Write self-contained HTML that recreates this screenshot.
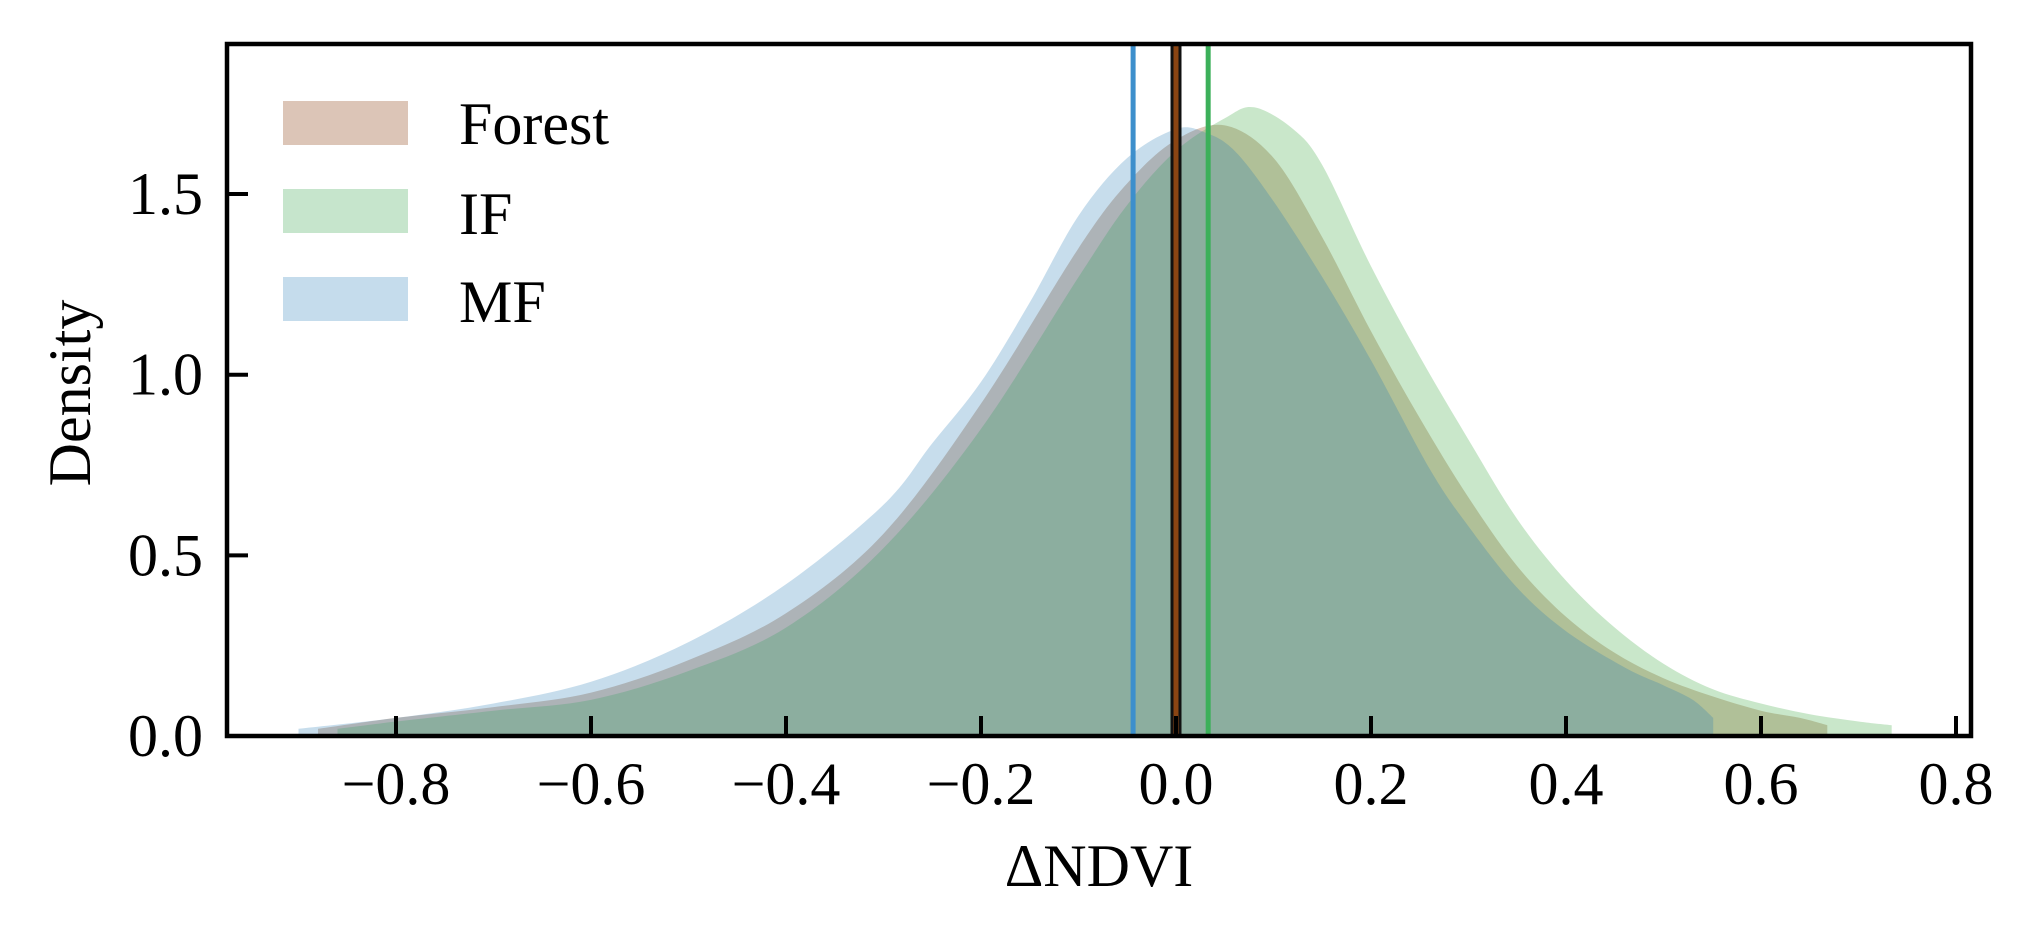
<!DOCTYPE html>
<html><head><meta charset="utf-8"><style>
html,body{margin:0;padding:0;background:#fff;}
svg{display:block;font-family:"Liberation Serif",serif;}
</style></head><body>
<svg id="chart" width="2039" height="943" viewBox="0 0 2039 943" xmlns="http://www.w3.org/2000/svg">
<g id="fills"></g>
<g id="means"></g>
<g id="axes"></g>
<g id="legend"></g>
<text x="90" y="393" font-size="60" text-anchor="middle" transform="rotate(-90 90 393)">Density</text>
<text x="1099" y="886" font-size="60" text-anchor="middle">ΔNDVI</text>
</svg>
<script>
const seriesNames = ["Forest", "IF", "MF"];
const forestX = [-0.88,-0.8,-0.7,-0.6,-0.5,-0.4,-0.3,-0.2,-0.1,-0.05,0.0,0.05,0.1,0.15,0.2,0.25,0.3,0.35,0.4,0.45,0.5,0.55,0.6,0.64,0.668];
const forestY = [0.02,0.05,0.08,0.12,0.21,0.34,0.56,0.92,1.35,1.53,1.65,1.69,1.6,1.38,1.12,0.88,0.66,0.47,0.33,0.23,0.16,0.11,0.07,0.05,0.03];
const ifX = [-0.86,-0.8,-0.7,-0.6,-0.5,-0.4,-0.3,-0.2,-0.1,-0.05,0.0,0.05,0.08,0.12,0.15,0.2,0.25,0.3,0.35,0.4,0.45,0.5,0.55,0.6,0.65,0.7,0.734];
const ifY = [0.02,0.04,0.07,0.1,0.18,0.3,0.52,0.85,1.27,1.47,1.62,1.71,1.74,1.68,1.58,1.3,1.05,0.82,0.6,0.43,0.3,0.2,0.13,0.09,0.06,0.04,0.03];
const mfX = [-0.9,-0.8,-0.7,-0.6,-0.5,-0.4,-0.3,-0.25,-0.2,-0.15,-0.1,-0.05,0.0,0.03,0.06,0.1,0.15,0.2,0.26,0.3,0.35,0.4,0.46,0.5,0.53,0.551];
const mfY = [0.02,0.05,0.09,0.15,0.26,0.42,0.64,0.81,0.98,1.2,1.44,1.6,1.68,1.67,1.62,1.48,1.27,1.04,0.74,0.58,0.41,0.29,0.19,0.14,0.1,0.05];
const meanValues = [0.0, 0.033, -0.044];
const xTicks = [-0.8,-0.6,-0.4,-0.2,0.0,0.2,0.4,0.6,0.8];
const xTickLabels = ["\u22120.8","\u22120.6","\u22120.4","\u22120.2","0.0","0.2","0.4","0.6","0.8"];
const yTicks = [0.0,0.5,1.0,1.5];
const yTickLabels = ["0.0","0.5","1.0","1.5"];

const L=227,R=1971,T=44,B=736;
const X0=1176, XS=975;
const YS=361.3;
const sx=v=>X0+v*XS;
const sy=v=>B-v*YS;
const NS="http://www.w3.org/2000/svg";
function mk(tag,attrs,parent){const e=document.createElementNS(NS,tag);for(const k in attrs)e.setAttribute(k,attrs[k]);parent.appendChild(e);return e;}
function smooth(pts){
  let d=` L${pts[0][0].toFixed(1)},${pts[0][1].toFixed(1)}`;
  for(let i=0;i<pts.length-1;i++){
    const p0=pts[Math.max(0,i-1)],p1=pts[i],p2=pts[i+1],p3=pts[Math.min(pts.length-1,i+2)];
    const c1=[p1[0]+(p2[0]-p0[0])/6,p1[1]+(p2[1]-p0[1])/6];
    const c2=[p2[0]-(p3[0]-p1[0])/6,p2[1]-(p3[1]-p1[1])/6];
    d+=` C${c1[0].toFixed(1)},${c1[1].toFixed(1)} ${c2[0].toFixed(1)},${c2[1].toFixed(1)} ${p2[0].toFixed(1)},${p2[1].toFixed(1)}`;
  }
  return d;
}
const fills=document.getElementById('fills');
const fillCols=[["#8b4513",0.3],["#4caf50",0.3],["#1f77b4",0.25]];
const xs=[forestX,ifX,mfX], ys=[forestY,ifY,mfY];
for(let s=0;s<3;s++){
  const pts=xs[s].map((v,i)=>[sx(v),sy(ys[s][i])]);
  let d=`M${sx(xs[s][0])},${B}`+smooth(pts)+` L${sx(xs[s][xs[s].length-1])},${B} Z`;
  const p=mk('path',{d:d,fill:fillCols[s][0],'fill-opacity':fillCols[s][1]},fills);
  
  
}
const means=document.getElementById('means');
const lineCols=["#8b4513","#3cb05a","#3d8fcc"];
for(let s=0;s<3;s++){
  const x=sx(meanValues[s]);
  if(s===0){
    const bl=mk('line',{x1:x,x2:x,y1:T,y2:B,stroke:'#111',"stroke-width":11},means);
    
    
  }
  const l=mk('line',{x1:x,x2:x,y1:T,y2:B,stroke:lineCols[s],"stroke-width":5},means);
  
  
}
const axes=document.getElementById('axes');
const fr=mk('rect',{x:L,y:T,width:R-L,height:B-T,fill:'none',stroke:'#000','stroke-width':4.5},axes);


xTicks.forEach((v,i)=>{
  const x=sx(v);
  const t=mk('line',{x1:x,x2:x,y1:B,y2:B-20,stroke:'#000','stroke-width':4},axes);
  
  
  const tx=mk('text',{x:x,y:804,'font-size':60,'text-anchor':'middle'},axes);
  tx.textContent=xTickLabels[i];
  
  
});
yTicks.forEach((v,i)=>{
  const y=sy(v);
  const t=mk('line',{x1:L,x2:L+21,y1:y,y2:y,stroke:'#000','stroke-width':4},axes);
  
  
  const tx=mk('text',{x:203,y:y+20,'font-size':60,'text-anchor':'end'},axes);
  tx.textContent=yTickLabels[i];
  
  
});
const legend=document.getElementById('legend');
const legCols=["#dcc5b7","#c6e5cc","#c5dcec"];
const legY=[101,189,277];
const legBase=[144,234,322];
seriesNames.forEach((n,i)=>{
  const r=mk('rect',{x:283,y:legY[i],width:125,height:44,fill:legCols[i]},legend);
  
  
  const t=mk('text',{x:459,y:legBase[i],'font-size':60},legend);
  t.textContent=n;
  
  
});
</script>
</body></html>
